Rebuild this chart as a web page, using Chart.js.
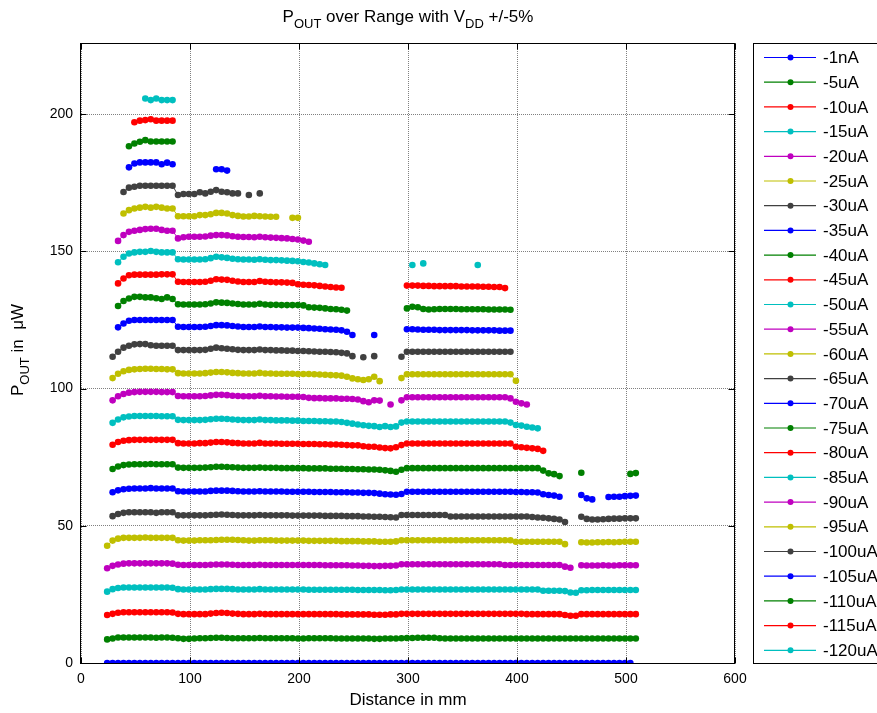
<!DOCTYPE html>
<html><head><meta charset="utf-8">
<script src="https://cdn.jsdelivr.net/npm/chart.js@4.4.0/dist/chart.umd.min.js"></script>
<style>html,body{margin:0;padding:0;background:#fff;}canvas{display:block;}</style>
</head><body>
<canvas id="c" width="877" height="713"></canvas>
<script>
const _ = null;
const distanceMm = [24,29,34,39,44,49,54,59,64,69,74,79,84,89,94,99,104,109,114,119,124,129,134,139,144,149,154,159,164,169,174,179,184,189,194,199,204,209,214,219,224,229,234,239,244,249,254,259,264,269,274,279,284,289,294,299,304,309,314,319,324,329,334,339,344,349,354,359,364,369,374,379,384,389,394,399,404,409,414,419,424,429,434,439,444,449,454,459,464,469,474,479,484,489,494,499,504,509];
const seriesLabels = ['-1nA','-5uA','-10uA','-15uA','-20uA','-25uA','-30uA','-35uA','-40uA','-45uA','-50uA','-55uA','-60uA','-65uA','-70uA','-75uA','-80uA','-85uA','-90uA','-95uA','-100uA','-105uA','-110uA','-115uA','-120uA'];
const xTickValues = [0,100,200,300,400,500,600];
const yTickValues = [0,50,100,150,200];

const pout_1nA = [0,0,0,0,0,0,0,0,0,0,0,0,0,
 0,0,0,0,0,0,0,0,0,0,0,0,0,0,0,0,0,0,0,0,0,0,0,0,0,0,0,0,0,0,0,0,0,0,0,0,0,0,0,0,
 0,0,0,0,0,0,0,0,0,0,0,0,0,0,0,0,0,0,0,0,0,0,0,0,0,0,0,0,0,0,0,0,0,
 0,0,0,0,0,0,0,0,0,0,0];
const pout_5uA = [8.6,8.9,9.3,9.3,9.3,9.3,9.3,9.3,9.3,9.2,9.3,9.3,9.2,
 9.0,8.8,8.8,8.9,9.0,9.0,9.1,9.2,9.2,9.1,9.0,9.0,9.0,9.0,9.0,9.1,9.0,9.0,9.0,9.0,9.0,9.0,8.9,8.9,9.0,9.0,9.0,9.0,9.0,8.9,8.9,8.9,8.9,8.9,8.9,8.9,8.8,8.8,8.9,8.9,8.9,
 9.0,9.1,9.1,9.2,9.2,9.2,9.2,9.0,8.9,8.9,8.9,8.9,8.9,8.9,8.9,8.9,8.9,8.9,8.9,8.9,8.9,8.9,8.9,8.9,8.9,8.9,8.9,8.9,8.9,8.9,8.9,8.9,8.9,
 8.9,8.9,8.9,8.9,8.9,8.9,8.9,8.9,8.9,8.9,8.9];
const pout_10uA = [17.5,17.9,18.3,18.5,18.5,18.5,18.5,18.5,18.5,18.5,18.5,18.5,18.4,
 17.9,17.8,17.8,17.8,17.8,17.8,18.0,18.2,18.3,18.2,18.0,17.9,17.8,17.8,17.8,17.9,17.8,17.8,17.8,17.8,17.8,17.8,17.8,17.8,17.8,17.8,17.8,17.8,17.8,17.8,17.7,17.7,17.7,17.7,17.7,17.7,17.6,17.6,17.6,17.7,17.7,
 17.9,17.9,17.9,17.9,17.9,17.9,17.9,17.9,17.9,17.9,17.9,17.9,17.9,17.9,17.9,17.9,17.9,17.9,17.9,17.9,17.9,17.9,17.9,17.8,17.8,17.8,17.8,17.8,17.8,17.8,17.5,17.2,17.2,
 17.8,17.8,17.8,17.8,17.8,17.8,17.8,17.8,17.8,17.8,17.8];
const pout_15uA = [26.0,26.9,27.3,27.5,27.5,27.5,27.5,27.5,27.5,27.5,27.5,27.5,27.4,
 26.9,26.8,26.8,26.8,26.8,26.8,26.9,27.0,27.0,27.0,26.9,26.8,26.8,26.8,26.8,26.9,26.8,26.8,26.8,26.8,26.8,26.8,26.8,26.8,26.7,26.7,26.7,26.7,26.7,26.7,26.7,26.7,26.7,26.6,26.6,26.6,26.6,26.6,26.5,26.5,26.6,
 26.8,26.8,26.8,26.8,26.8,26.8,26.8,26.8,26.8,26.8,26.8,26.8,26.8,26.8,26.8,26.8,26.8,26.8,26.8,26.8,26.8,26.8,26.8,26.8,26.8,26.8,26.3,26.3,26.3,26.3,26.2,25.7,25.6,
 26.5,26.5,26.6,26.6,26.6,26.6,26.6,26.6,26.6,26.6,26.6];
const pout_20uA = [34.5,35.4,35.9,36.2,36.3,36.3,36.3,36.3,36.3,36.3,36.3,36.3,36.2,
 35.8,35.7,35.7,35.7,35.7,35.7,35.8,35.9,35.9,35.9,35.8,35.7,35.7,35.7,35.7,35.8,35.7,35.7,35.7,35.7,35.7,35.7,35.7,35.7,35.7,35.7,35.7,35.6,35.6,35.6,35.6,35.6,35.5,35.5,35.4,35.4,35.3,35.3,35.4,35.4,35.5,
 36.0,36.0,36.0,36.0,36.0,36.0,36.0,36.0,36.0,36.0,36.0,36.0,36.0,36.0,36.0,36.0,36.0,36.0,36.0,35.7,35.7,35.7,35.7,35.7,35.7,35.7,35.7,35.7,35.7,35.7,35.1,34.7,_,
 35.6,35.5,35.5,35.5,35.6,35.5,35.5,35.6,35.6,35.6,35.6];
const pout_25uA = [42.7,44.6,45.3,45.6,45.6,45.6,45.6,45.7,45.6,45.6,45.6,45.6,45.6,
 44.7,44.6,44.6,44.6,44.7,44.7,44.7,44.8,44.9,44.9,44.9,44.8,44.7,44.6,44.6,44.7,44.7,44.7,44.6,44.6,44.6,44.6,44.6,44.6,44.5,44.5,44.5,44.5,44.5,44.5,44.4,44.4,44.4,44.4,44.3,44.3,44.3,44.2,44.2,44.2,44.3,
 44.7,44.7,44.7,44.7,44.7,44.7,44.7,44.7,44.7,44.7,44.7,44.7,44.7,44.7,44.7,44.7,44.7,44.7,44.7,44.7,44.7,44.2,44.2,44.2,44.2,44.2,44.2,44.2,44.2,44.2,43.3,_,_,
 44.0,43.9,43.9,44.0,44.0,44.1,44.0,44.1,44.2,44.2,44.2];
const pout_30uA = [_,53.5,54.3,54.7,54.9,54.9,54.9,54.9,54.9,54.7,54.9,54.9,54.9,
 53.8,53.8,53.8,53.8,53.8,53.8,53.9,54.0,54.1,54.0,53.9,53.8,53.8,53.8,53.8,53.9,53.8,53.8,53.8,53.8,53.8,53.7,53.7,53.7,53.7,53.7,53.7,53.6,53.6,53.6,53.6,53.5,53.5,53.5,53.4,53.4,53.3,53.3,53.2,53.1,53.0,
 53.9,53.9,53.9,53.9,53.9,53.9,53.9,53.9,53.9,53.4,53.4,53.4,53.4,53.4,53.4,53.4,53.4,53.4,53.4,53.4,53.4,53.4,53.4,53.4,53.2,53.0,52.9,52.7,52.5,52.3,51.4,_,_,
 53.3,52.5,52.3,52.3,52.4,52.5,52.6,52.6,52.7,52.7,52.7];
const pout_35uA = [_,62.2,62.9,63.3,63.5,63.6,63.6,63.6,63.7,63.6,63.6,63.6,63.6,
 62.6,62.5,62.5,62.5,62.5,62.5,62.7,62.8,62.8,62.8,62.7,62.6,62.5,62.5,62.5,62.6,62.5,62.5,62.5,62.5,62.4,62.4,62.4,62.4,62.4,62.3,62.3,62.3,62.3,62.2,62.2,62.2,62.1,62.1,62.0,62.0,61.9,61.7,61.5,61.4,61.3,
 61.6,62.4,62.4,62.4,62.4,62.4,62.4,62.4,62.4,62.4,62.4,62.4,62.4,62.4,62.4,62.4,62.4,62.4,62.4,62.4,62.4,62.3,62.3,62.2,62.2,62.1,61.5,61.2,61.0,60.6,_,_,_,
 61.2,60.0,59.6,_,_,60.5,60.6,60.6,60.8,60.9,61.0];
const pout_40uA = [_,70.7,71.6,72.1,72.3,72.4,72.4,72.4,72.5,72.4,72.4,72.4,72.4,
 71.2,71.1,71.1,71.1,71.1,71.2,71.3,71.5,71.5,71.4,71.3,71.2,71.1,71.1,71.1,71.2,71.1,71.1,71.1,71.0,71.0,71.0,71.0,71.0,70.9,70.9,70.9,70.9,70.8,70.8,70.8,70.7,70.7,70.6,70.6,70.5,70.5,70.4,70.2,70.0,69.7,
 70.4,71.0,71.0,71.0,71.0,71.0,71.0,71.0,71.0,71.0,71.0,71.0,71.0,71.0,71.0,71.0,71.0,71.0,71.0,71.0,71.0,71.0,71.0,71.0,71.0,71.0,70.1,69.1,68.8,68.1,_,_,_,
 69.3,_,_,_,_,_,_,_,_,68.9,69.2];
const pout_45uA = [_,79.5,80.5,81.0,81.2,81.3,81.3,81.3,81.3,81.3,81.3,81.3,81.3,
 80.1,80.0,80.0,80.0,80.1,80.1,80.3,80.5,80.5,80.4,80.2,80.1,80.0,80.0,80.0,80.2,80.0,80.0,80.0,79.9,79.9,79.9,79.9,79.8,79.8,79.8,79.7,79.7,79.6,79.6,79.5,79.4,79.3,79.3,79.0,78.8,78.8,78.5,78.3,78.2,78.6,
 79.4,80.0,80.0,80.0,80.0,80.0,80.0,80.0,80.0,80.0,80.0,80.0,80.0,80.0,80.0,80.0,80.0,80.0,80.0,80.0,80.0,78.8,78.6,78.4,78.2,78.0,77.3];
const pout_50uA = [_,87.5,88.7,89.5,89.8,90.0,90.0,90.0,90.0,90.0,89.9,89.9,89.9,
 88.6,88.5,88.5,88.5,88.5,88.6,88.8,89.0,89.0,88.9,88.7,88.6,88.5,88.5,88.5,88.7,88.5,88.5,88.4,88.4,88.4,88.3,88.3,88.2,88.2,88.2,88.1,88.1,88.0,88.0,87.8,87.5,87.2,86.9,86.6,86.4,86.3,86.0,86.3,86.0,86.2,
 87.6,88.0,88.0,88.0,88.0,88.0,88.0,88.0,88.0,88.0,88.0,88.0,88.0,88.0,88.0,88.0,88.0,88.0,88.0,88.0,87.6,86.7,86.5,86.1,85.8,85.5];
const pout_55uA = [_,95.7,97.2,98.0,98.5,98.7,98.8,98.8,98.8,98.8,98.7,98.7,98.7,
 97.3,97.2,97.2,97.2,97.2,97.3,97.5,97.7,97.7,97.6,97.4,97.3,97.2,97.2,97.2,97.4,97.2,97.2,97.1,97.1,97.0,97.0,97.0,96.9,96.6,96.5,96.5,96.4,96.4,96.4,96.3,96.3,96.2,96.0,95.4,95.0,95.7,95.6,_,94.2,_,
 95.7,96.8,96.8,96.8,96.8,96.8,96.8,96.8,96.8,96.8,96.8,96.8,96.8,96.8,96.8,96.8,96.8,96.8,96.8,96.8,96.4,95.2,94.6,94.2];
const pout_60uA = [_,103.8,105.4,106.3,106.8,107.0,107.1,107.2,107.2,107.1,107.1,107.0,107.0,
 105.6,105.5,105.5,105.5,105.5,105.6,105.8,106.0,106.0,105.9,105.7,105.6,105.5,105.5,105.5,105.7,105.5,105.5,105.4,105.4,105.4,105.4,105.3,105.3,105.3,105.2,105.1,105.0,104.9,104.8,104.7,104.3,103.7,103.4,103.1,103.4,104.3,102.7,_,_,_,
 103.8,105.2,105.2,105.2,105.2,105.2,105.2,105.2,105.2,105.2,105.2,105.2,105.2,105.2,105.2,105.2,105.2,105.2,105.2,105.2,105.2,102.8];
const pout_65uA = [_,111.6,113.4,114.9,115.6,116.1,116.2,116.2,115.8,115.6,115.6,115.6,115.6,
 114.0,114.0,114.0,114.0,114.0,114.1,114.5,114.9,114.7,114.5,114.3,114.1,114.0,114.0,114.0,114.2,114.0,114.0,113.9,113.9,113.8,113.8,113.7,113.7,113.6,113.5,113.4,113.4,113.3,113.2,113.0,112.8,111.8,_,111.4,_,111.8,_,_,_,_,
 111.6,113.4,113.4,113.4,113.4,113.4,113.4,113.4,113.4,113.4,113.4,113.4,113.4,113.4,113.4,113.4,113.4,113.4,113.4,113.4,113.4];
const pout_70uA = [_,_,122.3,123.7,124.7,125.0,125.0,125.0,125.0,125.0,125.0,125.0,125.0,
 122.5,122.4,122.4,122.4,122.4,122.5,122.8,123.1,123.1,123.0,122.8,122.6,122.4,122.4,122.4,122.6,122.4,122.4,122.3,122.3,122.2,122.2,122.2,122.1,122.0,121.9,121.8,121.6,121.5,121.4,121.2,120.7,119.5,_,_,_,119.5,_,_,_,_,
 _,121.6,121.6,121.5,121.4,121.4,121.4,121.3,121.3,121.3,121.3,121.3,121.3,121.2,121.2,121.2,121.2,121.2,121.1,121.1,121.1];
const pout_75uA = [_,_,130.1,131.9,132.8,133.4,133.4,133.2,133.2,132.9,132.6,133.2,132.6,
 130.7,130.6,130.6,130.6,130.6,130.7,131.0,131.4,131.3,131.2,131.0,130.8,130.6,130.6,130.6,130.9,130.6,130.5,130.5,130.4,130.4,130.4,130.4,130.3,129.6,129.5,129.4,129.2,129.0,128.9,128.7,128.4,_,_,_,_,_,_,_,_,_,
 _,129.2,129.8,129.6,129.0,128.8,128.9,129.0,129.0,129.0,129.0,128.9,128.9,128.9,128.9,128.9,128.8,128.8,128.8,128.8,128.7];
const pout_80uA = [_,_,138.3,140.1,141.3,141.5,141.5,141.5,141.5,141.5,141.6,141.6,141.6,
 138.9,138.8,138.8,138.8,138.8,138.9,139.3,139.8,139.7,139.6,139.3,139.0,138.8,138.8,138.8,139.2,138.9,138.8,138.7,138.7,138.6,138.5,138.0,137.8,137.7,137.6,137.4,137.2,137.0,136.8,136.7,_,_,_,_,_,_,_,_,_,_,
 _,137.5,137.5,137.5,137.4,137.4,137.3,137.3,137.3,137.3,137.3,137.2,137.2,137.2,137.2,137.1,137.1,137.0,137.0,136.6];
const pout_85uA = [_,_,146.0,148.0,149.2,149.6,149.8,149.8,150.1,149.8,149.6,149.6,149.6,
 147.1,147.0,147.0,147.0,147.0,147.1,147.5,148.0,147.8,147.6,147.3,147.1,147.0,147.0,146.9,147.1,146.9,146.8,146.8,146.7,146.6,146.5,146.4,146.1,145.9,145.6,145.3,145.0,_,_,_,_,_,_,_,_,_,_,_,_,_,
 _,_,145.0,_,145.6,_,_,_,_,_,_,_,_,_,145.0];
const pout_90uA = [_,_,153.8,155.9,157.1,157.5,157.8,158.1,158.2,158.2,157.8,157.5,157.5,
 154.7,155.1,155.3,155.3,155.3,155.4,155.7,155.9,155.9,155.8,155.5,155.3,155.2,155.2,155.1,155.3,155.1,155.0,154.9,154.8,154.7,154.5,154.3,153.9,153.5];
const pout_95uA = [_,_,_,163.8,165.0,165.6,165.9,166.2,165.9,166.2,165.9,165.6,165.6,
 162.8,162.8,162.8,162.8,163.2,163.2,163.5,164.0,164.0,163.8,163.2,162.9,162.7,162.7,162.9,162.8,162.7,162.6,162.6,_,_,162.2,162.2];
const pout_100uA = [_,_,_,171.6,173.2,173.5,173.9,173.9,173.9,173.9,173.9,173.9,173.9,
 170.5,170.9,170.9,170.9,171.5,171.1,171.7,172.3,171.7,171.5,171.1,171.1,_,170.5,_,171.1];
const pout_105uA = [_,_,_,_,180.6,182.0,182.4,182.4,182.4,182.4,181.7,182.3,181.7,
 _,_,_,_,_,_,_,179.9,179.9,179.4];
const pout_110uA = [_,_,_,_,188.3,189.3,189.9,190.5,190.0,190.0,190.0,190.0,190.0];
const pout_115uA = [_,_,_,_,_,197.0,197.6,197.8,198.1,197.6,197.6,197.6,197.6];
const pout_120uA = [_,_,_,_,_,_,_,205.7,205.1,205.7,205.1,205.1,205.1];

const seriesValues = [pout_1nA,pout_5uA,pout_10uA,pout_15uA,pout_20uA,pout_25uA,pout_30uA,pout_35uA,pout_40uA,pout_45uA,pout_50uA,pout_55uA,pout_60uA,pout_65uA,pout_70uA,pout_75uA,pout_80uA,pout_85uA,pout_90uA,pout_95uA,pout_100uA,pout_105uA,pout_110uA,pout_115uA,pout_120uA];

const palette = ['#0000FF','#008000','#FF0000','#00BFBF','#BF00BF','#BFBF00','#404040'];
const FONT = "'Liberation Sans', Arial, Helvetica, sans-serif";

const datasets = seriesLabels.map((label, k) => ({
  label,
  data: seriesValues[k].map((v, i) => ({x: distanceMm[i], y: v})),
  borderColor: palette[k % 7],
  backgroundColor: palette[k % 7],
  pointBackgroundColor: palette[k % 7],
  borderWidth: 1,
  pointRadius: 3.3,
  pointHoverRadius: 3.3,
  pointBorderWidth: 0,
  spanGaps: false,
  tension: 0
}));

function drawRich(ctx, parts, x, y, align, mainSize, subSize, subDrop) {
  let total = 0;
  parts.forEach(p => { ctx.font = (p[1] ? subSize : mainSize) + 'px ' + FONT; total += ctx.measureText(p[0]).width; });
  let cx = align === 'center' ? x - total / 2 : x;
  parts.forEach(p => {
    ctx.font = (p[1] ? subSize : mainSize) + 'px ' + FONT;
    ctx.fillText(p[0], cx, y + (p[1] ? subDrop : 0));
    cx += ctx.measureText(p[0]).width;
  });
}

const decor = {
  id: 'decor',
  afterDatasetsDraw(chart) {
    const {ctx, chartArea: a, scales: {x, y}} = chart;
    ctx.save();
    ctx.strokeStyle = '#000';
    ctx.lineWidth = 1;
    const L = Math.round(a.left) - 0.5, R = Math.round(a.right) - 0.5;
    const T = Math.round(a.top) + 0.5, B = Math.round(a.bottom) + 0.5;
    ctx.strokeRect(L, T, R - L, B - T);
    ctx.beginPath();
    xTickValues.forEach(v => {
      const px = Math.round(x.getPixelForValue(v)) + 0.5;
      ctx.moveTo(px, B); ctx.lineTo(px, B - 6);
      ctx.moveTo(px, T); ctx.lineTo(px, T + 6);
    });
    yTickValues.forEach(v => {
      const py = Math.round(y.getPixelForValue(v)) + 0.5;
      ctx.moveTo(L, py); ctx.lineTo(L + 6, py);
      ctx.moveTo(R, py); ctx.lineTo(R - 6, py);
    });
    ctx.stroke();
    ctx.restore();
  },
  afterDraw(chart) {
    const ctx = chart.ctx;
    ctx.save();
    ctx.fillStyle = '#000';
    ctx.textBaseline = 'alphabetic';
    drawRich(ctx, [['P',0],['OUT',1],[' over Range with V',0],['DD',1],[' +/-5%',0]], 408, 22, 'center', 17, 13, 6);
    ctx.translate(23, 350);
    ctx.rotate(-Math.PI / 2);
    drawRich(ctx, [['P',0],['OUT',1],[' in  \u03bcW',0]], 0, 0, 'center', 17, 13, 6);
    ctx.restore();

    // legend box
    ctx.save();
    const lx = 753.5, ly = 43.5, lw = 140, lh = 620;
    ctx.fillStyle = '#fff';
    ctx.fillRect(lx, ly, lw, lh);
    ctx.strokeStyle = '#000';
    ctx.lineWidth = 1;
    ctx.strokeRect(lx, ly, lw, lh);
    ctx.font = '17px ' + FONT;
    ctx.textBaseline = 'middle';
    chart.data.datasets.forEach((ds, k) => {
      const yy = 57.5 + k * 24.7;
      ctx.strokeStyle = ds.borderColor;
      ctx.lineWidth = 1.2;
      ctx.beginPath(); ctx.moveTo(764, yy); ctx.lineTo(816, yy); ctx.stroke();
      ctx.fillStyle = ds.borderColor;
      ctx.beginPath(); ctx.arc(790.5, yy, 3, 0, Math.PI * 2); ctx.fill();
      ctx.fillStyle = '#000';
      ctx.fillText(ds.label, 823, yy + 1);
    });
    ctx.restore();
  }
};

new Chart(document.getElementById('c'), {
  type: 'line',
  data: {datasets},
  options: {
    responsive: false,
    animation: false,
    events: [],
    layout: {padding: {left: 0, top: 43, right: 142, bottom: 0}},
    plugins: {legend: {display: false}, tooltip: {enabled: false}, title: {display: false}},
    scales: {
      x: {
        type: 'linear', min: 0, max: 600,
        afterBuildTicks: s => { s.ticks = xTickValues.map(v => ({value: v})); },
        afterFit: s => { s.height = 50; },
        ticks: {font: {family: FONT, size: 14}, color: '#000', padding: 8, maxRotation: 0, autoSkip: false},
        grid: {color: '#808080', lineWidth: 1, drawTicks: false},
        border: {display: false, dash: [1, 1]},
        title: {display: true, text: 'Distance in mm', color: '#000', font: {family: FONT, size: 17}, padding: {top: 0, bottom: 2}}
      },
      y: {
        type: 'linear', min: 0, max: 225.9,
        afterBuildTicks: s => { s.ticks = yTickValues.map(v => ({value: v})); },
        afterFit: s => { s.width = 81; },
        ticks: {font: {family: FONT, size: 14}, color: '#000', padding: 8, autoSkip: false},
        grid: {color: '#808080', lineWidth: 1, drawTicks: false},
        border: {display: false, dash: [1, 1]}
      }
    }
  },
  plugins: [decor]
});
</script>
</body></html>
